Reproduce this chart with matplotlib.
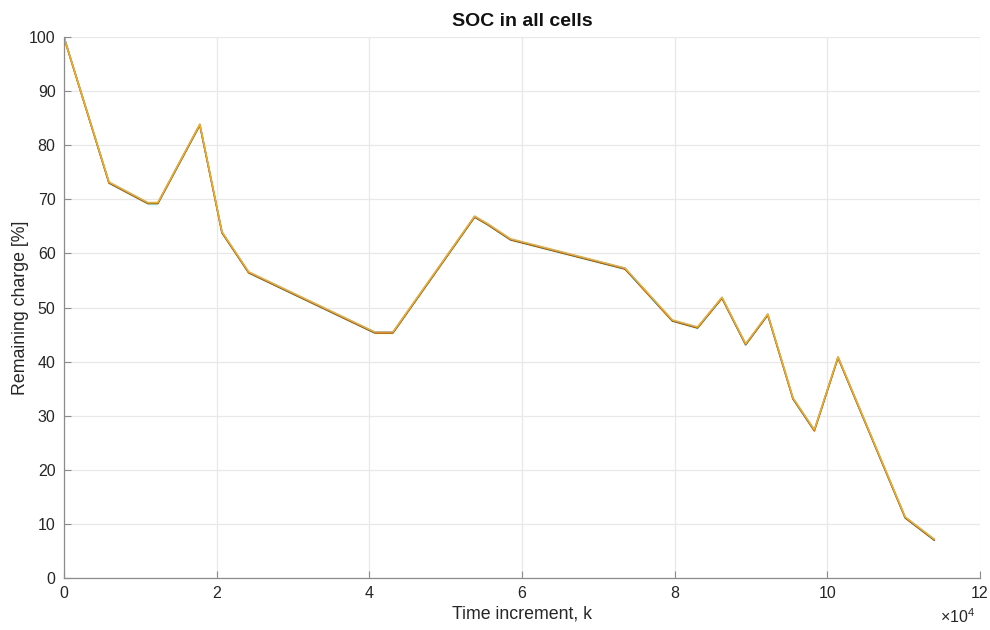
import matplotlib
matplotlib.use("Agg")
import matplotlib.pyplot as plt

plt.rcParams["font.family"] = ["Liberation Sans", "DejaVu Sans"]
plt.rcParams["mathtext.fontset"] = "custom"
plt.rcParams["mathtext.rm"] = "Liberation Sans"
plt.rcParams["mathtext.it"] = "Liberation Sans"

# Time instants (samples) where the drive profile changes slope
time_k = [0, 5900, 11000, 12300, 17800, 20700, 24200, 40700, 43100, 53800,
          55500, 58500, 73500, 79700, 83000, 86200, 89300, 92200, 95500,
          98300, 101400, 110200, 114000]

# State of charge of each cell [%] at those instants
soc_cell1 = [100.0, 73.0, 69.2, 69.2, 83.7, 63.8, 56.4, 45.3, 45.3, 66.7,
             65.3, 62.5, 57.1, 47.5, 46.2, 51.7, 43.1, 48.6, 33.1,
             27.2, 40.7, 11.1, 7.0]
soc_cell2 = [99.9, 73.1, 69.3, 69.3, 83.8, 63.9, 56.5, 45.4, 45.4, 66.8,
             65.4, 62.6, 57.2, 47.6, 46.3, 51.8, 43.2, 48.7, 33.2,
             27.3, 40.8, 11.2, 7.1]
soc_cell3 = [100.0, 73.2, 69.4, 69.4, 83.9, 64.0, 56.6, 45.5, 45.5, 66.9,
             65.5, 62.7, 57.3, 47.7, 46.4, 51.9, 43.3, 48.8, 33.3,
             27.4, 40.9, 11.3, 7.2]

cell_series = [soc_cell1, soc_cell2, soc_cell3]
cell_colors = ["#0072BD", "#D95319", "#EDB120"]

x_ticks = [0, 20000, 40000, 60000, 80000, 100000, 120000]
x_tick_labels = ["0", "2", "4", "6", "8", "10", "12"]
y_ticks = [0, 10, 20, 30, 40, 50, 60, 70, 80, 90, 100]

fig = plt.figure(figsize=(9.9, 6.3), dpi=100)
ax = fig.add_axes([0.0646, 0.0825, 0.9253, 0.8588])

for soc, col in zip(cell_series, cell_colors):
    ax.plot(time_k, soc, color=col, lw=1.15)

ax.set_xlim(0, 120000)
ax.set_ylim(0, 100)
ax.set_xticks(x_ticks)
ax.set_xticklabels(x_tick_labels)
ax.set_yticks(y_ticks)

ax.grid(True, color="#e8e8e8", lw=0.9)
ax.set_axisbelow(True)
for side in ("top", "right"):
    ax.spines[side].set_visible(False)
for side in ("left", "bottom"):
    ax.spines[side].set_color("#8c8c8c")
    ax.spines[side].set_linewidth(0.9)
ax.tick_params(direction="in", length=5, width=0.8, color="#8c8c8c",
               labelsize=11.5, labelcolor="#262626", pad=6)

ax.set_title("SOC in all cells", fontsize=14, fontweight="bold",
             color="#111111", pad=8)
ax.set_xlabel("Time increment, k", fontsize=12.8, color="#262626", labelpad=3)
ax.set_ylabel("Remaining charge [%]", fontsize=12.8, color="#262626", labelpad=0)

fig.text(0.949, 0.006, r"$\times10^{4}$", fontsize=11.5, color="#262626",
         ha="left", va="bottom")

fig.savefig("out.png", dpi=100, facecolor="white")
